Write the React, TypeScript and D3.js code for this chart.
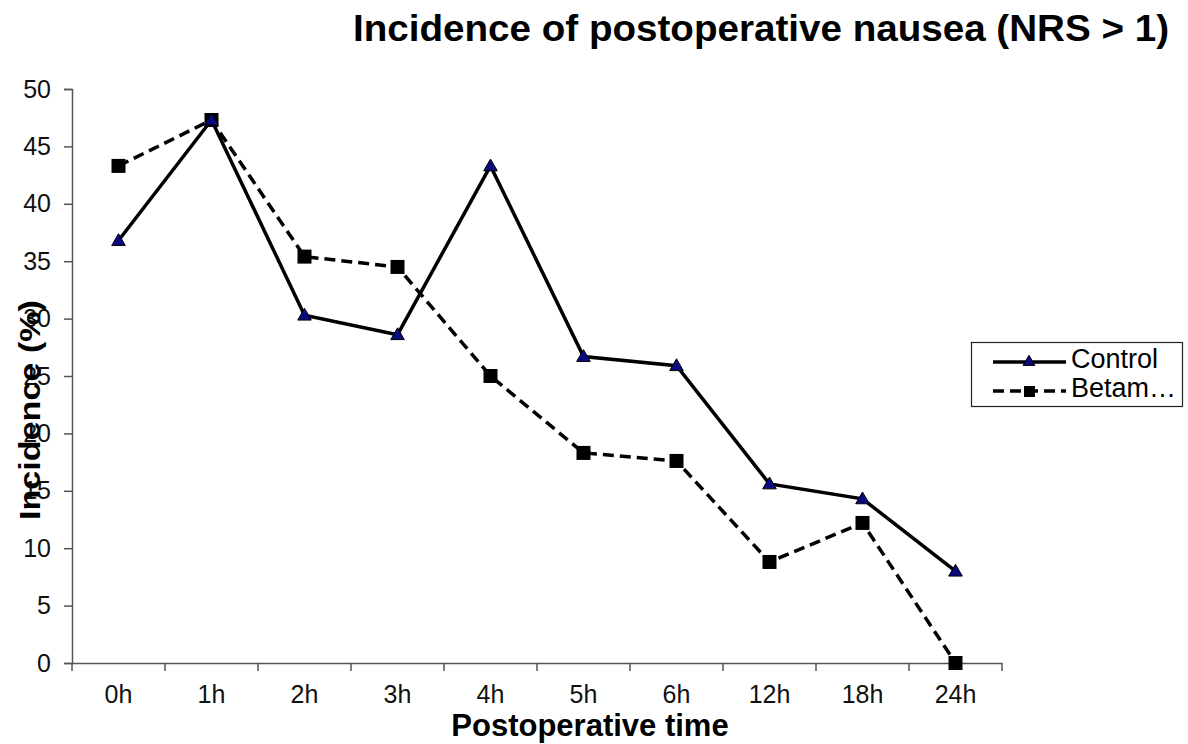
import { useEffect, useRef } from 'react';
import * as d3 from 'd3';

const times = ['0h', '1h', '2h', '3h', '4h', '5h', '6h', '12h', '18h', '24h'];
const control = [36.8, 47.3, 30.3, 28.6, 43.3, 26.7, 25.9, 15.6, 14.3, 8.0];
const betamethasone = [43.3, 47.3, 35.4, 34.5, 25.0, 18.3, 17.6, 8.8, 12.2, 0];
const yTicks = [0, 5, 10, 15, 20, 25, 30, 35, 40, 45, 50];

export default function App() {
  const svgRef = useRef<SVGSVGElement>(null);

  useEffect(() => {
    if (!svgRef.current) return;
    const svg = d3.select(svgRef.current);
    svg.selectAll('*').remove();

    const W = 1188, H = 744;
    const left = 72, right = 1002, top = 89, bottom = 663;
    const font = 'Liberation Sans, Arial, sans-serif';
    const narrow = 'Liberation Sans Narrow, Liberation Sans, Arial, sans-serif';
    const axisColor = '#555';

    const x = d3.scaleBand<string>().domain(times).range([left, right]);
    const y = d3.scaleLinear().domain([0, 50]).range([bottom, top]);
    const cx = (t: string) => (x(t) ?? 0) + x.bandwidth() / 2;

    svg.attr('width', W).attr('height', H);

    // Y axis
    const yAxis = svg.append('g')
      .attr('transform', `translate(${left},0)`)
      .call(d3.axisLeft(y).tickValues(yTicks).tickSize(8).tickPadding(13));
    yAxis.selectAll('text')
      .style('font-family', font)
      .style('font-size', '25px')
      .style('fill', '#111');

    // X axis
    const xAxis = svg.append('g')
      .attr('transform', `translate(0,${bottom})`)
      .call(d3.axisBottom(x).tickSize(0).tickPadding(22));
    xAxis.selectAll('text')
      .style('font-family', font)
      .style('font-size', '25px')
      .style('fill', '#111');
    // category boundary ticks
    const bounds = times.map(t => x(t) ?? 0).concat([right]);
    xAxis.selectAll('line.bound')
      .data(bounds)
      .enter()
      .append('line')
      .attr('class', 'bound')
      .attr('x1', d => d)
      .attr('x2', d => d)
      .attr('y1', 0)
      .attr('y2', 8)
      .attr('stroke', axisColor)
      .attr('stroke-width', 1.5);

    svg.selectAll('.domain').attr('stroke', axisColor).attr('stroke-width', 1.5);
    svg.selectAll('.tick line').attr('stroke', axisColor).attr('stroke-width', 1.5);

    const line = d3.line<number>()
      .x((_, i) => cx(times[i]))
      .y(d => y(d));

    // Betamethasone (dashed)
    svg.append('path')
      .datum(betamethasone)
      .attr('d', line)
      .attr('fill', 'none')
      .attr('stroke', '#000')
      .attr('stroke-width', 3.5)
      .attr('stroke-dasharray', '11,6');

    // Control (solid)
    svg.append('path')
      .datum(control)
      .attr('d', line)
      .attr('fill', 'none')
      .attr('stroke', '#000')
      .attr('stroke-width', 3.5);

    const sq = 14;
    svg.selectAll('rect.beta')
      .data(betamethasone)
      .enter()
      .append('rect')
      .attr('class', 'beta')
      .attr('x', (_, i) => cx(times[i]) - sq / 2)
      .attr('y', d => y(d) - sq / 2)
      .attr('width', sq)
      .attr('height', sq)
      .attr('fill', '#000');

    const tri = d3.symbol().type(d3.symbolTriangle).size(80);
    svg.selectAll('path.ctrl')
      .data(control)
      .enter()
      .append('path')
      .attr('class', 'ctrl')
      .attr('d', tri)
      .attr('transform', (d, i) => `translate(${cx(times[i])},${y(d) + 1})`)
      .attr('fill', '#0a0a80')
      .attr('stroke', '#000')
      .attr('stroke-width', 1);

    // Title
    svg.append('text')
      .attr('x', 761)
      .attr('y', 41)
      .attr('text-anchor', 'middle')
      .attr('textLength', 816)
      .attr('lengthAdjust', 'spacingAndGlyphs')
      .style('font-family', narrow)
      .style('font-weight', 'bold')
      .style('font-size', '36px')
      .text('Incidence of postoperative nausea (NRS > 1)');

    // Axis titles
    svg.append('text')
      .attr('x', 590)
      .attr('y', 736)
      .attr('text-anchor', 'middle')
      .style('font-family', font)
      .style('font-weight', 'bold')
      .style('font-size', '31px')
      .text('Postoperative time');

    svg.append('text')
      .attr('transform', 'translate(40,410) rotate(-90)')
      .attr('text-anchor', 'middle')
      .attr('textLength', 220)
      .attr('lengthAdjust', 'spacingAndGlyphs')
      .style('font-family', font)
      .style('font-weight', 'bold')
      .style('font-size', '29px')
      .text('Incidence (%)');

    // Legend
    const lg = svg.append('g');
    lg.append('rect')
      .attr('x', 971.5)
      .attr('y', 342.5)
      .attr('width', 211)
      .attr('height', 64)
      .attr('fill', '#fff')
      .attr('stroke', '#222')
      .attr('stroke-width', 1.2);
    const items = [
      { name: 'Control', y: 362, dash: null as string | null, marker: 'tri' },
      { name: 'Betam\u2026', y: 391, dash: '11,6', marker: 'sq' },
    ];
    items.forEach(it => {
      lg.append('line')
        .attr('x1', 993).attr('x2', 1066)
        .attr('y1', it.y).attr('y2', it.y)
        .attr('stroke', '#000')
        .attr('stroke-width', 3.5)
        .attr('stroke-dasharray', it.dash ?? null);
      if (it.marker === 'tri') {
        lg.append('path')
          .attr('d', d3.symbol().type(d3.symbolTriangle).size(60)())
          .attr('transform', `translate(1029,${it.y})`)
          .attr('fill', '#0a0a80')
          .attr('stroke', '#000')
          .attr('stroke-width', 1);
      } else {
        lg.append('rect')
          .attr('x', 1024).attr('y', it.y - 5)
          .attr('width', 11).attr('height', 11)
          .attr('fill', '#000');
      }
      lg.append('text')
        .attr('x', 1071)
        .attr('y', it.y + 6)
        .style('font-family', font)
        .style('font-size', '27px')
        .text(it.name);
    });
  }, []);

  return (
    <div style={{ position: 'absolute', left: 0, top: 0, background: '#fff' }}>
      <svg ref={svgRef} />
    </div>
  );
}
